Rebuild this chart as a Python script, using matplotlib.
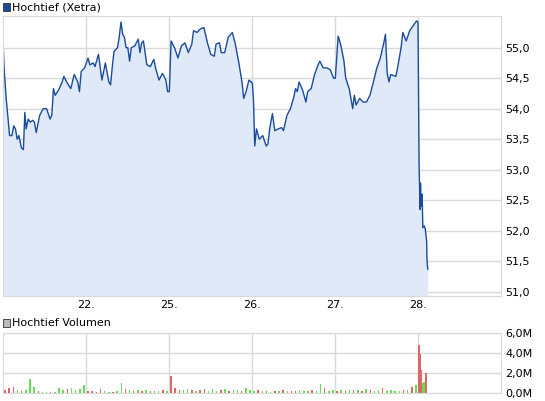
import numpy as np
import matplotlib.pyplot as plt

# -------------------------------
# Data (time in trading-day units, day 0 = 21.)
# -------------------------------
times = [0.004, 0.013, 0.038, 0.054, 0.079, 0.108, 0.129, 0.15, 0.171, 0.192, 0.221, 0.246, 0.263, 0.279,
         0.304, 0.329, 0.358, 0.379, 0.4, 0.442, 0.483, 0.525, 0.567, 0.588, 0.608, 0.629, 0.671, 0.713,
         0.733, 0.775, 0.817, 0.858, 0.9, 0.921, 0.942, 0.983, 1.025, 1.046, 1.088, 1.108, 1.15, 1.192,
         1.233, 1.275, 1.296, 1.317, 1.338, 1.379, 1.4, 1.421, 1.442, 1.463, 1.483, 1.504, 1.525, 1.546,
         1.588, 1.629, 1.65, 1.671, 1.692, 1.733, 1.775, 1.817, 1.838, 1.879, 1.921, 1.963, 1.983, 2.004,
         2.013, 2.025, 2.067, 2.108, 2.15, 2.192, 2.233, 2.275, 2.296, 2.338, 2.379, 2.421, 2.463, 2.504,
         2.546, 2.567, 2.608, 2.629, 2.671, 2.713, 2.763, 2.796, 2.838, 2.879, 2.9, 2.929, 2.963, 3.004,
         3.017, 3.033, 3.054, 3.088, 3.129, 3.171, 3.192, 3.213, 3.246, 3.275, 3.317, 3.358, 3.379, 3.421,
         3.463, 3.504, 3.525, 3.546, 3.567, 3.608, 3.65, 3.671, 3.713, 3.754, 3.796, 3.817, 3.858, 3.9,
         3.942, 3.983, 4.004, 4.038, 4.067, 4.108, 4.129, 4.171, 4.213, 4.233, 4.254, 4.296, 4.338, 4.379,
         4.421, 4.463, 4.504, 4.546, 4.588, 4.608, 4.629, 4.65, 4.671, 4.733, 4.754, 4.796, 4.817, 4.858,
         4.9, 4.942, 4.983, 5.0, 5.004, 5.0125, 5.025, 5.03, 5.0375, 5.05, 5.058, 5.075, 5.0875, 5.104,
         5.108, 5.117]
prices = [55.00, 54.67, 54.17, 53.94, 53.56, 53.56, 53.72, 53.67, 53.50, 53.56, 53.36, 53.33, 53.94, 53.67,
          53.83, 53.78, 53.81, 53.78, 53.61, 53.89, 54.00, 54.00, 53.83, 53.89, 54.33, 54.22, 54.31, 54.44,
          54.53, 54.42, 54.33, 54.56, 54.44, 54.28, 54.61, 54.67, 54.83, 54.72, 54.75, 54.69, 54.89, 54.47,
          54.75, 54.44, 54.39, 54.69, 54.94, 55.00, 55.17, 55.42, 55.22, 55.17, 55.00, 55.00, 54.78, 55.00,
          55.03, 55.14, 54.92, 55.08, 55.11, 54.72, 54.69, 54.81, 54.67, 54.47, 54.58, 54.47, 54.28, 54.28,
          54.64, 55.11, 55.00, 54.83, 55.03, 55.08, 54.92, 55.06, 55.28, 55.25, 55.31, 55.33, 55.08, 54.89,
          54.86, 55.06, 55.08, 54.92, 54.92, 55.17, 55.25, 55.08, 54.78, 54.44, 54.17, 54.28, 54.47, 54.42,
          54.17, 53.39, 53.67, 53.50, 53.56, 53.39, 53.42, 53.67, 53.92, 53.64, 53.67, 53.69, 53.64, 53.89,
          54.00, 54.19, 54.33, 54.28, 54.44, 54.31, 54.11, 54.28, 54.33, 54.56, 54.72, 54.78, 54.67, 54.67,
          54.64, 54.50, 54.50, 55.19, 55.06, 54.78, 54.50, 54.33, 54.00, 54.22, 54.06, 54.17, 54.11, 54.11,
          54.22, 54.44, 54.67, 54.83, 55.08, 55.22, 54.58, 54.44, 54.56, 54.53, 54.67, 55.00, 55.25, 55.11,
          55.28, 55.36, 55.44, 55.42, 54.64, 53.11, 52.35, 52.78, 52.40, 52.60, 52.05, 52.08, 52.03, 51.83,
          51.53, 51.37]

# volume in millions, one bar every 0.05 day
vol_times = list(np.arange(0.025, 5.0, 0.05).round(3)) + [5.01, 5.025, 5.04, 5.055, 5.075, 5.095]
volumes = [0.3, 0.5, 0.6, 0.3, 0.2, 0.3, 1.4, 0.6, 0.2, 0.15,
           0.1, 0.1, 0.15, 0.5, 0.3, 0.4, 0.5, 0.3, 0.4, 0.8,
           0.2, 0.2, 0.1, 0.4, 0.2, 0.1, 0.1, 0.2, 1.0, 0.4,
           0.3, 0.2, 0.3, 0.2, 0.3, 0.2, 0.2, 0.2, 0.3, 0.2,
           1.7, 0.5, 0.3, 0.3, 0.4, 0.3, 0.2, 0.3, 0.4, 0.2,
           0.4, 0.2, 0.3, 0.4, 0.2, 0.3, 0.3, 0.2, 0.5, 0.3,
           0.2, 0.3, 0.2, 0.2, 0.1, 0.2, 0.2, 0.3, 0.2, 0.2,
           0.2, 0.3, 0.2, 0.2, 0.3, 0.2, 0.9, 0.5, 0.2, 0.3,
           0.2, 0.3, 0.2, 0.3, 0.3, 0.3, 0.2, 0.4, 0.3, 0.2,
           0.3, 0.5, 0.2, 0.3, 0.2, 0.2, 0.3, 0.3, 0.6, 0.8,
           4.8, 3.9, 2.3, 1.0, 1.1, 2.0]
vol_up = "rrrgrgggrggrgggrggggrrrrggrggrgr" \
         "grgrggrgrrrggrgrrgggrgrggrgggrgr" \
         "grgrgrrgggrggrggrgrgrgrgrggrggg" \
         "grgrgrrrggrrgrr"

# -------------------------------
# Figure
# -------------------------------
GRID = "#d9d9d9"
fig = plt.figure(figsize=(5.45, 4.01), dpi=100)
ax = fig.add_axes([3 / 545, 1 - 296 / 401, 498 / 545, 280 / 401])
axv = fig.add_axes([3 / 545, 1 - 393 / 401, 498 / 545, 60 / 401])

day_ticks = [1, 2, 3, 4, 5]
day_labels = ["22.", "25.", "26.", "27.", "28."]

ax.fill_between(times, prices, 50.0, color="#dfe9f8", lw=0)
ax.plot(times, prices, color="#1a4b9c", lw=1.0)
ax.set_xlim(0, 6.0)
ax.set_ylim(50.93, 55.52)
ax.set_yticks([51.0, 51.5, 52.0, 52.5, 53.0, 53.5, 54.0, 54.5, 55.0])
ax.set_yticklabels([f"{v:.1f}".replace(".", ",") for v in ax.get_yticks()])
ax.set_xticks(day_ticks)
ax.set_xticklabels(day_labels)

colors = ["#66dd55" if c == "g" else "#dd6666" for c in vol_up]
axv.bar(vol_times, volumes, width=0.018, color=colors[:len(volumes)])
axv.set_xlim(0, 6.0)
axv.set_ylim(0, 6.0)
axv.set_yticks([0, 2, 4, 6])
axv.set_yticklabels(["0,0M", "2,0M", "4,0M", "6,0M"])
axv.set_xticks(day_ticks)
axv.set_xticklabels([])

for a in (ax, axv):
    a.grid(True, color=GRID, lw=1)
    a.set_axisbelow(True)
    a.yaxis.tick_right()
    a.tick_params(length=0, labelsize=8, pad=3)
    for s in a.spines.values():
        s.set_color(GRID)

fig.text(12 / 545, 1 - 7 / 401, "Hochtief (Xetra)", fontsize=8, va="center")
fig.patches.append(plt.Rectangle((3 / 545, 1 - 11 / 401), 7 / 545, 8 / 401, transform=fig.transFigure,
                                 facecolor="#1a4b9c", edgecolor="#333333", lw=0.6))
fig.text(12 / 545, 1 - 323 / 401, "Hochtief Volumen", fontsize=8, va="center")
fig.patches.append(plt.Rectangle((3 / 545, 1 - 327 / 401), 7 / 545, 8 / 401, transform=fig.transFigure,
                                 facecolor="#bbbbbb", edgecolor="#333333", lw=0.6))

fig.savefig("out.png", dpi=100)
